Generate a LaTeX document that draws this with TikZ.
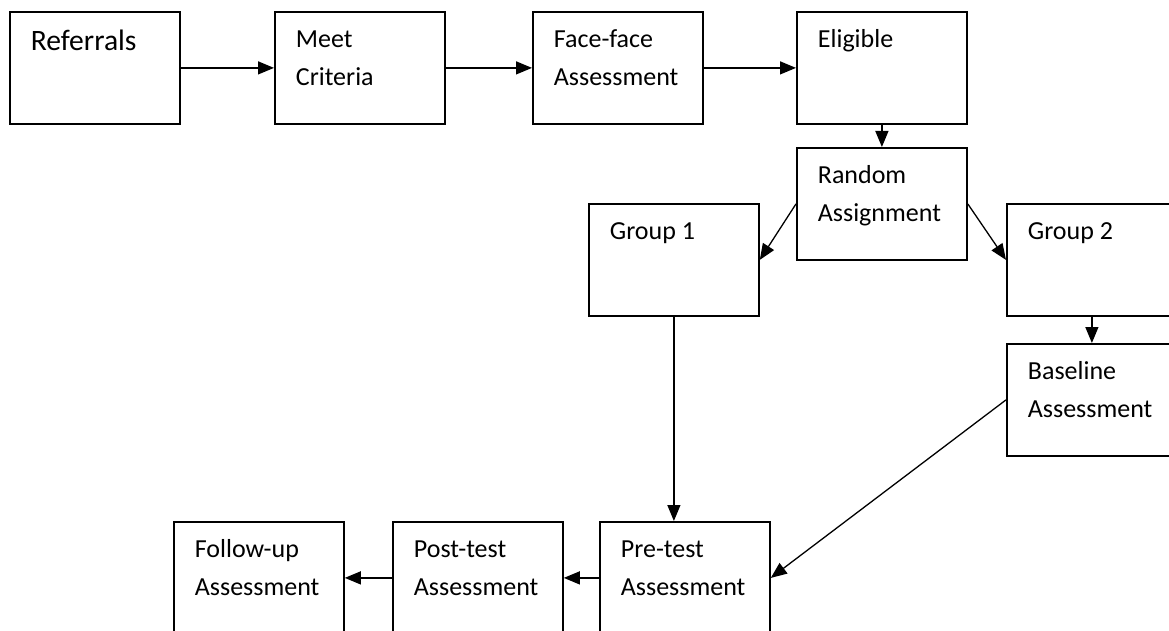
\documentclass[tikz,border=0pt]{standalone}
\usepackage{fontspec}
\setmainfont{Carlito}
\usetikzlibrary{arrows.meta}
\newcommand{\stagetext}[1]{\parbox[c][56pt][t]{85pt}{\fontsize{13pt}{19pt}\selectfont\raggedright\leftskip=10.5pt\parindent=0pt\rule{0pt}{18pt}#1}}

\begin{document}
\begin{tikzpicture}[
  x=0.5pt, y=-0.5pt,
  stage/.style={draw, line width=0.9pt, inner sep=0pt, anchor=north west},
  flow/.style={line width=0.65pt, -{Triangle[length=8pt, width=6.5pt]}},
]
  \clip (0,0) rectangle (1169,631);
  % top row
  \node[stage] (referrals) at (9,11)   {\stagetext{\rule{0pt}{19.5pt}\fontsize{14.8pt}{19pt}\selectfont Referrals}};
  \node[stage] (meet)      at (274,11) {\stagetext{Meet\\Criteria}};
  \node[stage] (face)      at (532,11) {\stagetext{Face-face\\Assessment}};
  \node[stage] (eligible)  at (796,11) {\stagetext{Eligible}};
  % randomisation
  \node[stage] (random)    at (796,147)  {\stagetext{Random\\Assignment}};
  \node[stage] (group1)    at (588,203)  {\stagetext{Group 1}};
  \node[stage] (group2)    at (1006,203) {\stagetext{Group 2}};
  \node[stage] (baseline)  at (1006,343) {\stagetext{Baseline\\Assessment}};
  % bottom row
  \node[stage] (pretest)   at (599,521) {\stagetext{Pre-test\\Assessment}};
  \node[stage] (posttest)  at (392,521) {\stagetext{Post-test\\Assessment}};
  \node[stage] (followup)  at (173,521) {\stagetext{Follow-up\\Assessment}};

  \draw[flow] (referrals) -- (meet);
  \draw[flow] (meet) -- (face);
  \draw[flow] (face) -- (eligible);
  \draw[flow] (eligible) -- (random);
  \draw[flow] (random.west) -- (group1.east);
  \draw[flow] (random.east) -- (group2.west);
  \draw[flow] (group2) -- (baseline);
  \draw[flow] (group1.south) -- (group1.south |- pretest.north);
  \draw[flow] (baseline.west) -- (pretest.east);
  \draw[flow] (pretest) -- (posttest);
  \draw[flow] (posttest) -- (followup);
\end{tikzpicture}
\end{document}
